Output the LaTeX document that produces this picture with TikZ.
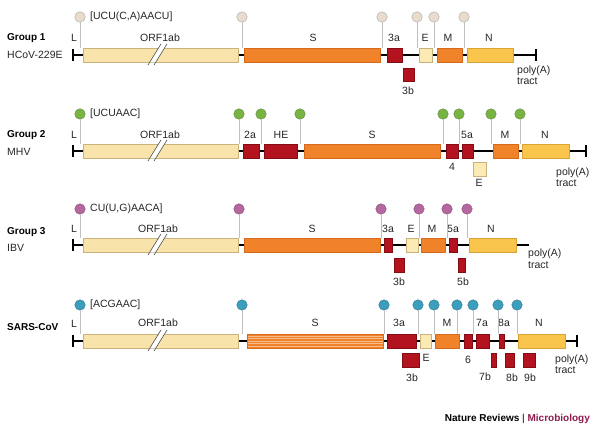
\documentclass[tikz,border=0pt]{standalone}
\usepackage{fontspec}
\setmainfont{Liberation Sans}
\definecolor{orfcol}{HTML}{F8E4AA}
\definecolor{orfline}{HTML}{C9B37C}
\definecolor{spkcol}{HTML}{F0822A}
\definecolor{spkline}{HTML}{D46A1C}
\definecolor{acccol}{HTML}{B3121F}
\definecolor{accline}{HTML}{850C15}
\definecolor{envcol}{HTML}{FBEAB4}
\definecolor{nuccol}{HTML}{F9C54C}
\definecolor{nucline}{HTML}{D9A433}
\definecolor{tipone}{HTML}{E8DCCD}
\definecolor{tiptwo}{HTML}{78B443}
\definecolor{tipthree}{HTML}{B5679F}
\definecolor{tipfour}{HTML}{3C9EBD}
\definecolor{micro}{HTML}{8E1B4E}
\begin{document}
\begin{tikzpicture}[x=1pt,y=-1pt,
  every node/.style={font=\fontsize{10.5}{11.5}\selectfont, text=black!85, inner sep=0pt},
  grp/.style={anchor=west, font=\fontsize{10}{11}\selectfont\bfseries, text=black},
  strain/.style={anchor=west},
  backbone/.style={line width=1.3pt},
  stem/.style={draw=black!25, line width=0.8pt},
  tip/.style={circle, minimum size=10.5pt, line width=0.4pt},
  orf/.style={fill=orfcol, draw=orfline, line width=0.4pt},
  spk/.style={fill=spkcol, draw=spkline, line width=0.4pt},
  acc/.style={fill=acccol, draw=accline, line width=0.4pt},
  env/.style={fill=envcol, draw=orfline, line width=0.4pt},
  nuc/.style={fill=nuccol, draw=nucline, line width=0.4pt},
  brk/.style={draw=black!70, line width=0.6pt},
  polya/.style={anchor=west, align=left}]

\useasboundingbox (0,0) rectangle (600,430);

% group 1
\coordinate (r1) at (0,48);
\node[grp] (g1) at (7,38) {Group 1};
\node[strain] (v1) at (7,55) {HCoV-229E};
\draw[backbone] (73,55) -- (536,55);
\draw[backbone] (73,49) -- (73,61);
\draw[backbone] (536,49) -- (536,61);
\filldraw[orf] (83,48) rectangle (238,62);
\filldraw[spk] (244,48) rectangle (380,62);
\filldraw[acc] (387,48) rectangle (402,62);
\filldraw[env] (419,48) rectangle (432,62);
\filldraw[spk] (437,48) rectangle (462,62);
\filldraw[nuc] (467,48) rectangle (513,62);
\filldraw[acc] (403,68) rectangle (414,81);
\node (l1) at (74,38) {L};
\node (orf1) at (160,38) {ORF1ab};
\node (s1) at (313,38) {S};
\node (a3a1) at (394,38) {3a};
\node (e1) at (425,38) {E};
\node (m1) at (448,38) {M};
\node (n1) at (489,38) {N};
\node (b3b1) at (408,91) {3b};
\node[polya] (pa1) at (517,75.5) {poly(A)\\tract};
\node[anchor=west] (seq1) at (90,17) {[UCU(C,A)AACU]};
\foreach \x [count=\i] in {80,242,382,417,434,464} {
  \node[tip, fill=tipone, draw=black!35] (p1\i) at (\x,17) {};
  \draw[stem] (p1\i) -- (p1\i |- r1);
}

% group 2
\coordinate (r2) at (0,144);
\node[grp] (g2) at (7,135) {Group 2};
\node[strain] (v2) at (7,152) {MHV};
\draw[backbone] (73,151) -- (586,151);
\draw[backbone] (73,145) -- (73,157);
\draw[backbone] (586,145) -- (586,157);
\filldraw[orf] (83,144) rectangle (238,158);
\filldraw[acc] (243,144) rectangle (259,158);
\filldraw[acc] (264,144) rectangle (297,158);
\filldraw[spk] (304,144) rectangle (440,158);
\filldraw[acc] (446,144) rectangle (458,158);
\filldraw[acc] (462,144) rectangle (473,158);
\filldraw[env] (473,162) rectangle (486,176);
\filldraw[spk] (493,144) rectangle (518,158);
\filldraw[nuc] (522,144) rectangle (569,158);
\node (l2) at (74,135) {L};
\node (orf2) at (160,135) {ORF1ab};
\node (a2a2) at (250,135) {2a};
\node (he2) at (281,135) {HE};
\node (s2) at (372,135) {S};
\node (f2) at (452,167) {4};
\node (a5a2) at (467,135) {5a};
\node (e2) at (479,183) {E};
\node (m2) at (505,135) {M};
\node (n2) at (545,135) {N};
\node[polya] (pa2) at (556,177) {poly(A)\\tract};
\node[anchor=west] (seq2) at (90,114) {[UCUAAC]};
\foreach \x [count=\i] in {80,239,261,300,443,459,491,520} {
  \node[tip, fill=tiptwo, draw=tiptwo!75!black] (p2\i) at (\x,114) {};
  \draw[stem] (p2\i) -- (p2\i |- r2);
}

% group 3
\coordinate (r3) at (0,238);
\node[grp] (g3) at (7,232) {Group 3};
\node[strain] (v3) at (7,248) {IBV};
\draw[backbone] (73,245) -- (529,245);
\draw[backbone] (73,239) -- (73,251);
\filldraw[orf] (83,238) rectangle (238,252);
\filldraw[spk] (244,238) rectangle (380,252);
\filldraw[acc] (384,238) rectangle (392,252);
\filldraw[env] (406,238) rectangle (418,252);
\filldraw[spk] (421,238) rectangle (445,252);
\filldraw[acc] (449,238) rectangle (457,252);
\filldraw[nuc] (469,238) rectangle (516,252);
\filldraw[acc] (394,258) rectangle (404,272);
\filldraw[acc] (458,258) rectangle (465,272);
\node (l3) at (74,229) {L};
\node (orf3) at (158,229) {ORF1ab};
\node (s3) at (312,229) {S};
\node (a3a3) at (388,229) {3a};
\node (e3) at (411,229) {E};
\node (m3) at (432,229) {M};
\node (a5a3) at (453,229) {5a};
\node (n3) at (491,229) {N};
\node (b3b3) at (399,282) {3b};
\node (b5b3) at (463,282) {5b};
\node[polya] (pa3) at (528,258.5) {poly(A)\\tract};
\node[anchor=west] (seq3) at (90,209) {CU(U,G)AACA]};
\foreach \x [count=\i] in {80,239,381,419,447,467} {
  \node[tip, fill=tipthree, draw=tipthree!75!black] (p3\i) at (\x,209) {};
  \draw[stem] (p3\i) -- (p3\i |- r3);
}

% group 4
\coordinate (r4) at (0,334);
\node[grp] (g4) at (7,327) {SARS-CoV};
\draw[backbone] (73,341) -- (577,341);
\draw[backbone] (73,335) -- (73,347);
\draw[backbone] (577,335) -- (577,347);
\filldraw[orf] (83,334) rectangle (238,348);
\filldraw[spk] (247,334) rectangle (383,348);
\foreach \yy in {336,338.5,...,346}
  \draw[spkcol!55!white, line width=0.6pt] (247.5,\yy) -- (382.5,\yy);
\filldraw[acc] (387,334) rectangle (416,348);
\filldraw[env] (420,334) rectangle (431,348);
\filldraw[spk] (435,334) rectangle (459,348);
\filldraw[acc] (464,334) rectangle (472,348);
\filldraw[acc] (476,334) rectangle (489,348);
\filldraw[acc] (499,334) rectangle (504,348);
\filldraw[nuc] (518,334) rectangle (565,348);
\filldraw[acc] (402,353) rectangle (419,367);
\filldraw[acc] (491,353) rectangle (496,367);
\filldraw[acc] (505,353) rectangle (514,367);
\filldraw[acc] (523,353) rectangle (535,367);
\node (l4) at (74,324) {L};
\node (orf4) at (158,323) {ORF1ab};
\node (s4) at (315,323) {S};
\node (a3a4) at (399,323) {3a};
\node (m4) at (447,323) {M};
\node (a7a4) at (482,323) {7a};
\node (a8a4) at (504,323) {8a};
\node (n4) at (539,323) {N};
\node (e4) at (426,358) {E};
\node (s6) at (468,360) {6};
\node (b3b4) at (412,378) {3b};
\node (b7b4) at (485,377) {7b};
\node (b8b4) at (512,378) {8b};
\node (b9b4) at (530,378) {9b};
\node[polya] (pa4) at (555,364) {poly(A)\\tract};
\node[anchor=west] (seq4) at (90,305) {[ACGAAC]};
\foreach \x [count=\i] in {80,242,384,418,434,457,473,498,517} {
  \node[tip, fill=tipfour, draw=tipfour!75!black] (p4\i) at (\x,305) {};
  \draw[stem] (p4\i) -- (p4\i |- r4);
}

% breaks in ORF1ab
\foreach \y in {55,151,245,341} {
  \fill[white] (149.6,\y+7.4) -- (155.6,\y+7.4) -- (164.8,\y-7.4) -- (158.8,\y-7.4) -- cycle;
  \draw[brk] (148,\y+10) -- (161,\y-11);
  \draw[brk] (154,\y+10) -- (167,\y-11);
}

\node[anchor=east, font=\fontsize{10}{11}\selectfont\bfseries, text=black] (credit) at (590,419)
  {Nature Reviews {\mdseries|} \textcolor{micro}{Microbiology}};

\end{tikzpicture}
\end{document}
